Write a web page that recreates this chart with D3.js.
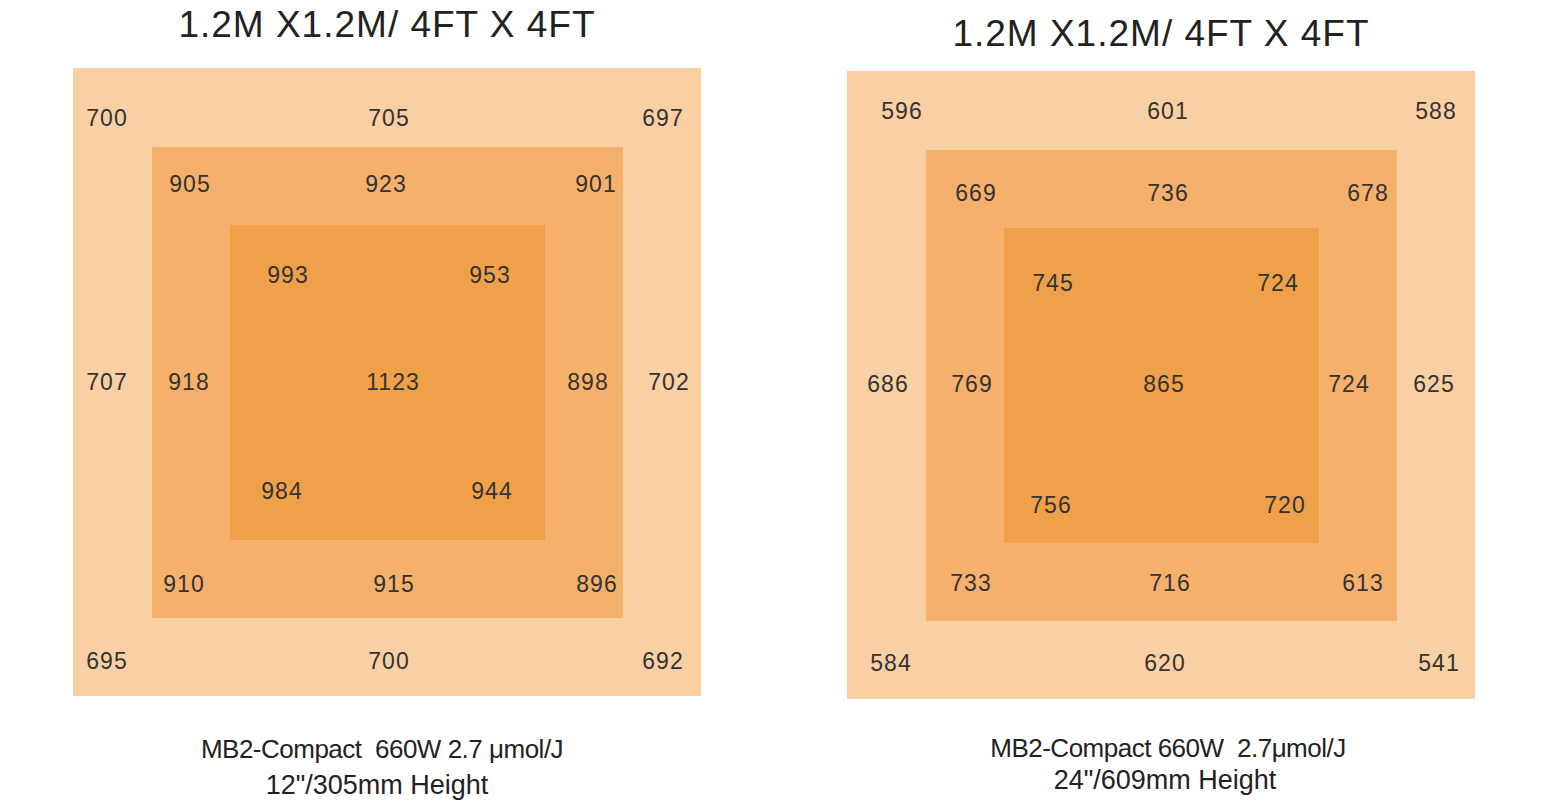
<!DOCTYPE html>
<html><head><meta charset="utf-8">
<script src="https://d3js.org/d3.v7.min.js"></script>
<style>body{margin:0;background:#fff} text{white-space:pre}</style></head>
<body><svg id="c" width="1558" height="807"></svg>
<script>
const titles = ["1.2M X1.2M/ 4FT X 4FT", "1.2M X1.2M/ 4FT X 4FT"];
const captions1 = ["MB2-Compact  660W 2.7 μmol/J", "MB2-Compact 660W  2.7μmol/J"];
const captions2 = ["12\"/305mm Height", "24\"/609mm Height"];
// values: outer ring (TL,T,TR,L,R,BL,B,BR), middle ring (same), inner (TL,TR,C,BL,BR)
const outerLeft = [700,705,697,707,702,695,700,692];
const middleLeft = [905,923,901,918,898,910,915,896];
const innerLeft = [993,953,1123,984,944];
const outerRight = [596,601,588,686,625,584,620,541];
const middleRight = [669,736,678,769,724,733,716,613];
const innerRight = [745,724,865,756,720];

const layL = {
 outer:[[34,50],[316,50],[590,50],[34,314],[596,314],[34,593],[316,593],[590,593]],
 middle:[[117,116],[313,116],[523,116],[116,314],[515,314],[111,516],[321,516],[524,516]],
 inner:[[215,207],[417,207],[320,314],[209,423],[419,423]]};
const layR = {
 outer:[[55,40],[321,40],[589,40],[41,313],[587,313],[44,592],[318,592],[592,592]],
 middle:[[129,122],[321,122],[521,122],[125,313],[502,313],[124,512],[323,512],[516,512]],
 inner:[[206,212],[431,212],[317,313],[204,434],[438,434]]};

const panels = [
 {x0:73,y0:68,titleY:37,outer:outerLeft,middle:middleLeft,inner:innerLeft,lay:layL,capY:[758,794],capX:[382,377]},
 {x0:847,y0:71,titleY:46,outer:outerRight,middle:middleRight,inner:innerRight,lay:layR,capY:[757,789],capX:[1168,1165]}];

const FF = "'Liberation Sans', Arial, sans-serif";
const svg = d3.select("#c");
const S = d3.scaleLinear().domain([0,628]).range([0,628]);
panels.forEach((p,i)=>{
  const g = svg.append("g").attr("transform",`translate(${p.x0},${p.y0})`);
  const rings = [[0,628,"#F9D0A3"],[79,471,"#F5B06C"],[157,315,"#F1A04A"]];
  g.selectAll("rect").data(rings).join("rect")
   .attr("x",d=>S(d[0])).attr("y",d=>S(d[0])).attr("width",d=>S(d[1])).attr("height",d=>S(d[1]))
   .attr("fill",d=>d[2]);
  g.append("text").attr("x",S(314)).attr("y",p.titleY-p.y0).attr("text-anchor","middle")
   .attr("font-family",FF).attr("font-size",37).attr("fill","#222")
   .attr("letter-spacing",1).text(titles[i]);
  const labels = [];
  ["outer","middle","inner"].forEach(k=>p[k].forEach((v,j)=>labels.push({v,pos:p.lay[k][j]})));
  g.selectAll("text.v").data(labels).join("text").attr("class","v")
   .attr("x",d=>S(d.pos[0])).attr("y",d=>S(d.pos[1])).attr("dy","0.35em")
   .attr("text-anchor","middle").attr("font-family",FF)
   .attr("font-size",23).attr("letter-spacing",1).attr("fill","#333").text(d=>d.v);
  g.append("text").attr("x",p.capX[0]-p.x0).attr("y",p.capY[0]-p.y0).attr("text-anchor","middle")
   .attr("font-family",FF).attr("font-size",26).attr("fill","#222")
   .attr("letter-spacing",-0.5).text(captions1[i]);
  g.append("text").attr("x",p.capX[1]-p.x0).attr("y",p.capY[1]-p.y0).attr("text-anchor","middle")
   .attr("font-family",FF).attr("font-size",27).attr("fill","#222")
   .text(captions2[i]);
});
</script></body></html>
